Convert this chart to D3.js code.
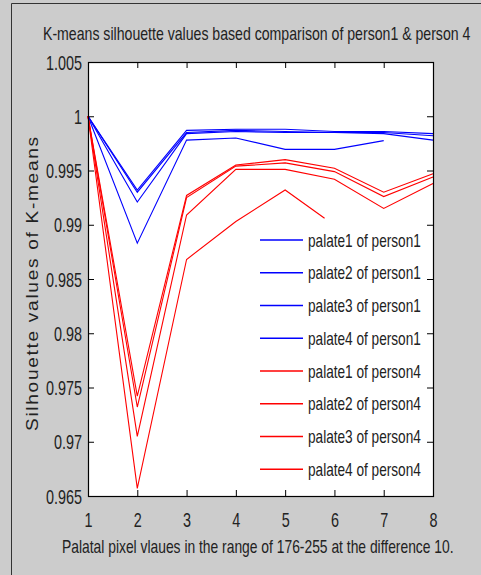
<!DOCTYPE html>
<html>
<head>
<meta charset="utf-8">
<script src="https://cdn.jsdelivr.net/npm/d3@7/dist/d3.min.js"></script>
<style>
  html, body { margin: 0; padding: 0; background: #cccccc; }
  svg { display: block; }
  text { font-family: "Liberation Sans", Arial, sans-serif; fill: #222; }
</style>
</head>
<body>
<script>
// Silhouette values per palate, person 1 (blue) and person 4 (red)
const xTicks = [1, 2, 3, 4, 5, 6, 7, 8];
const yTicks = [0.965, 0.97, 0.975, 0.98, 0.985, 0.99, 0.995, 1, 1.005];

const xSteps = [1, 2, 3, 4, 5, 6, 7, 8];
const xSteps7 = [1, 2, 3, 4, 5, 6, 7];
const xStepsShort = [1, 2, 3, 4, 5, 5.8];

const person1Palate1 = [1, 0.9932, 0.9987, 0.9988, 0.9988, 0.9986, 0.9986, 0.9984];
const person1Palate2 = [1, 0.9930, 0.9985, 0.9987, 0.9986, 0.9985, 0.9985, 0.9982];
const person1Palate3 = [1, 0.9921, 0.9984, 0.9986, 0.9985, 0.9985, 0.9984, 0.9978];
const person1Palate4 = [1, 0.9883, 0.9978, 0.9980, 0.99695, 0.99695, 0.99775];

const person4Palate1 = [1, 0.9742, 0.9927, 0.9955, 0.9960, 0.9952, 0.9930, 0.9947];
const person4Palate2 = [1, 0.9732, 0.9925, 0.9954, 0.9957, 0.9949, 0.9926, 0.9944];
const person4Palate3 = [1, 0.9705, 0.9909, 0.9951, 0.9951, 0.9942, 0.9915, 0.9938];
const person4Palate4 = [1, 0.9657, 0.9868, 0.9903, 0.9932, 0.9906];

const seriesNames = [
  "palate1 of person1", "palate2 of person1", "palate3 of person1", "palate4 of person1",
  "palate1 of person4", "palate2 of person4", "palate3 of person4", "palate4 of person4"
];
const seriesColors = ["#0000ff", "#0000ff", "#0000ff", "#0000ff", "#ff0000", "#ff0000", "#ff0000", "#ff0000"];

const series = [
  { xs: xSteps, ys: person1Palate1 },
  { xs: xSteps, ys: person1Palate2 },
  { xs: xSteps, ys: person1Palate3 },
  { xs: xSteps7, ys: person1Palate4 },
  { xs: xSteps, ys: person4Palate1 },
  { xs: xSteps, ys: person4Palate2 },
  { xs: xSteps, ys: person4Palate3 },
  { xs: xStepsShort, ys: person4Palate4 }
].map((s, i) => ({ name: seriesNames[i], color: seriesColors[i], pts: s.xs.map((x, j) => [x, s.ys[j]]) }));

const W = 481, H = 575;
const axLeft = 88, axRight = 433, axTop = 62, axBottom = 496;

const svg = d3.select("body").append("svg").attr("width", W).attr("height", H);

// figure background and frame
svg.append("rect").attr("width", W).attr("height", H).attr("fill", "#cccccc");
svg.append("line").attr("x1", 11.5).attr("x2", 11.5).attr("y1", 3.5).attr("y2", H).attr("stroke", "#333");
svg.append("line").attr("x1", 11.5).attr("x2", W).attr("y1", 3.5).attr("y2", 3.5).attr("stroke", "#333");

const x = d3.scaleLinear().domain([1, 8]).range([axLeft, axRight]);
const y = d3.scaleLinear().domain([0.965, 1.005]).range([axBottom, axTop]);

// plot area
svg.append("rect").attr("x", axLeft).attr("y", axTop).attr("width", axRight - axLeft).attr("height", axBottom - axTop)
  .attr("fill", "#ffffff");

const line = d3.line().x(d => x(d[0])).y(d => y(d[1]));
const plot = svg.append("g");
series.forEach(s => {
  plot.append("path").attr("d", line(s.pts)).attr("fill", "none")
    .attr("stroke", s.color).attr("stroke-width", 1.1).attr("stroke-linejoin", "miter");
});

// axes with inward ticks on all four sides
const tk = 6;
const gB = svg.append("g").attr("transform", `translate(0,${axBottom})`)
  .call(d3.axisBottom(x).tickValues(xTicks).tickSizeInner(-tk).tickSizeOuter(0).tickFormat(d3.format("d")));
const gT = svg.append("g").attr("transform", `translate(0,${axTop})`)
  .call(d3.axisTop(x).tickValues(xTicks).tickSizeInner(-tk).tickSizeOuter(0).tickFormat(""));
const gL = svg.append("g").attr("transform", `translate(${axLeft},0)`)
  .call(d3.axisLeft(y).tickValues(yTicks).tickSizeInner(-tk).tickSizeOuter(0).tickFormat(d => String(+d.toFixed(3))));
const gR = svg.append("g").attr("transform", `translate(${axRight},0)`)
  .call(d3.axisRight(y).tickValues(yTicks).tickSizeInner(-tk).tickSizeOuter(0).tickFormat(""));

[gB, gT, gL, gR].forEach(g => {
  g.select(".domain").remove();
  g.selectAll(".tick line").attr("stroke", "#000");
});

gB.selectAll(".tick text")
  .attr("y", 31).attr("dy", null)
  .attr("font-size", 20).attr("fill", "#222")
  .attr("font-family", "Liberation Sans, Arial, sans-serif")
  .attr("transform", "scale(0.72,1)");

gL.selectAll(".tick text")
  .attr("x", -6 / 0.72).attr("dy", "0.36em")
  .attr("font-size", 20).attr("fill", "#222")
  .attr("font-family", "Liberation Sans, Arial, sans-serif")
  .attr("transform", "scale(0.72,1)");

// frame of the axes
svg.append("rect").attr("x", axLeft + 0.5).attr("y", axTop + 0.5).attr("width", axRight - axLeft).attr("height", axBottom - axTop)
  .attr("fill", "none").attr("stroke", "#000").attr("stroke-width", 1.2);

// narrow text: measure at full width, then squeeze horizontally to the target width
function narrowText(parent, str, size, x0, y0, width, rotate, spacing) {
  const t = parent.append("text").attr("font-size", size).text(str);
  if (spacing) t.attr("letter-spacing", spacing);
  const natural = t.node().getComputedTextLength();
  const sx = width / natural;
  t.attr("transform", `translate(${x0},${y0})${rotate ? " rotate(-90)" : ""} scale(${sx},1)`);
  return t;
}

// legend
const legend = svg.append("g");
series.forEach((s, i) => {
  const ly = 240 + i * 32.75;
  legend.append("line").attr("x1", 260).attr("x2", 303).attr("y1", ly).attr("y2", ly)
    .attr("stroke", s.color).attr("stroke-width", 1.5);
  narrowText(legend, s.name, 19, 308, ly + 6.5, 113, false);
});

// titles
narrowText(svg, "K-means silhouette values based comparison of person1 & person 4", 18, 43, 40, 428, false);
narrowText(svg, "Palatal pixel vlaues in the range of 176-255 at the difference 10.", 18, 62, 553, 392, false);
narrowText(svg, "Silhouette values of K-means", 17, 38, 431, 296, true, 1.5);
</script>
</body>
</html>
